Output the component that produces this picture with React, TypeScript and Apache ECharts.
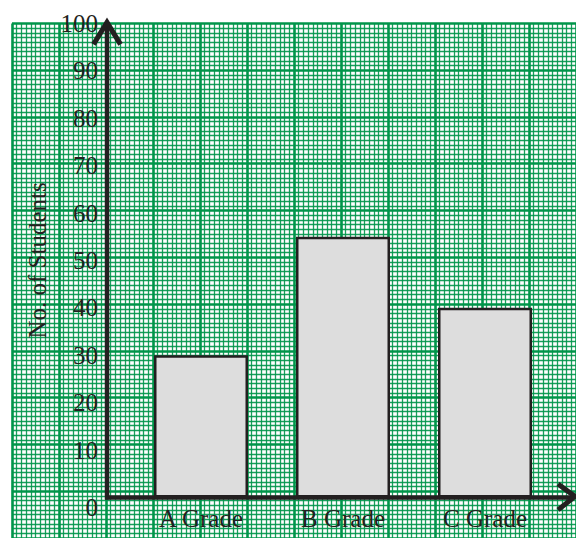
import React, { useEffect, useRef } from "react";
import * as echarts from "echarts";

const categories = ["A Grade", "B Grade", "C Grade"];
const students = [30, 55, 40];
const yMin = 0;
const yMax = 100;
const yInterval = 10;
const yAxisTitle = "No. of Students";

const INK = "#231f20";
const GREEN = "#00954a";
const FONT = "'Liberation Serif', 'Times New Roman', serif";

export default function App() {
  const ref = useRef<HTMLDivElement>(null);

  useEffect(() => {
    if (!ref.current) return;
    const chart = echarts.init(ref.current, null, { renderer: "svg" });

    const PAPER_LEFT = 12;
    const PAPER_TOP = 23.4;
    const CELL_X = 47.3;
    const CELL_Y = 47.4;
    const PLOT_BOTTOM = 497.4;
    const AXIS_X = 107;

    chart.setOption({
      animation: false,
      backgroundColor: "#ffffff",
      grid: [
        {
          left: PAPER_LEFT,
          top: PAPER_TOP,
          width: CELL_X * 12,
          height: CELL_Y * 11,
        },
        {
          left: 130,
          right: 20,
          top: PAPER_TOP,
          bottom: 538 - PLOT_BOTTOM,
        },
      ],
      xAxis: [
        {
          type: "value",
          gridIndex: 0,
          min: 0,
          max: 12,
          interval: 1,
          axisLine: { show: false },
          axisTick: { show: false },
          axisLabel: { show: false },
          minorTick: { show: true, splitNumber: 10, length: 0, lineStyle: { opacity: 0 } },
          splitLine: { show: true, lineStyle: { color: GREEN, width: 2.6 } },
          minorSplitLine: { show: true, lineStyle: { color: GREEN, width: 1.3, opacity: 0.9 } },
        },
        {
          type: "category",
          gridIndex: 1,
          data: categories,
          axisLine: { show: false },
          axisTick: { show: false },
          axisLabel: {
            color: INK,
            fontFamily: FONT,
            fontSize: 25,
            margin: 9,
          },
        },
      ],
      yAxis: [
        {
          type: "value",
          gridIndex: 0,
          min: 0,
          max: 11,
          interval: 1,
          axisLine: { show: false },
          axisTick: { show: false },
          axisLabel: { show: false },
          minorTick: { show: true, splitNumber: 10, length: 0, lineStyle: { opacity: 0 } },
          splitLine: { show: true, lineStyle: { color: GREEN, width: 2.6 } },
          minorSplitLine: { show: true, lineStyle: { color: GREEN, width: 1.3, opacity: 0.9 } },
        },
        {
          type: "value",
          gridIndex: 1,
          min: yMin,
          max: yMax,
          interval: yInterval,
          offset: 130 - AXIS_X,
          axisLine: { show: false },
          axisTick: { show: false },
          splitLine: { show: false },
          axisLabel: {
            color: INK,
            fontFamily: FONT,
            fontSize: 25,
            margin: 9,
            formatter: (v: number) => (v === 0 ? "{z|0}" : String(v)),
            rich: {
              z: { color: INK, fontFamily: FONT, fontSize: 25, padding: [20, 0, 0, 0] },
            },
          },
          name: yAxisTitle,
          nameLocation: "middle",
          nameGap: 49,
          nameRotate: 90,
          nameTextStyle: { color: INK, fontFamily: FONT, fontSize: 25 },
        },
      ],
      series: [
        {
          type: "bar",
          xAxisIndex: 1,
          yAxisIndex: 1,
          data: students,
          barWidth: 94,
          itemStyle: { color: "#dddddd", borderColor: INK, borderWidth: 2.5 },
        },
      ],
    });

    const yTop = chart.convertToPixel({ yAxisIndex: 1 }, yMax) as number;
    const yZero = chart.convertToPixel({ yAxisIndex: 1 }, yMin) as number;
    const right = 575;

    chart.setOption({
      graphic: [
        {
          type: "line",
          z: 100,
          shape: { x1: AXIS_X, y1: yZero + 2, x2: AXIS_X, y2: yTop - 1 },
          style: { stroke: INK, lineWidth: 4.5 },
        },
        {
          type: "line",
          z: 100,
          shape: { x1: AXIS_X - 2, y1: yZero, x2: right - 1, y2: yZero },
          style: { stroke: INK, lineWidth: 4.5 },
        },
        {
          type: "polyline",
          z: 100,
          shape: { points: [[AXIS_X - 13.5, yTop + 21], [AXIS_X, yTop - 1], [AXIS_X + 13.5, yTop + 21]] },
          style: { stroke: INK, lineWidth: 5, fill: "none" },
        },
        {
          type: "polyline",
          z: 100,
          shape: { points: [[right - 17, yZero - 13.5], [right, yZero - 1], [right - 17, yZero + 12.5]] },
          style: { stroke: INK, lineWidth: 5, fill: "none" },
        },
      ],
    });

    return () => chart.dispose();
  }, []);

  return (
    <div
      ref={ref}
      style={{ position: "fixed", left: 0, top: 0, width: 576, height: 538, background: "#fff" }}
    />
  );
}
